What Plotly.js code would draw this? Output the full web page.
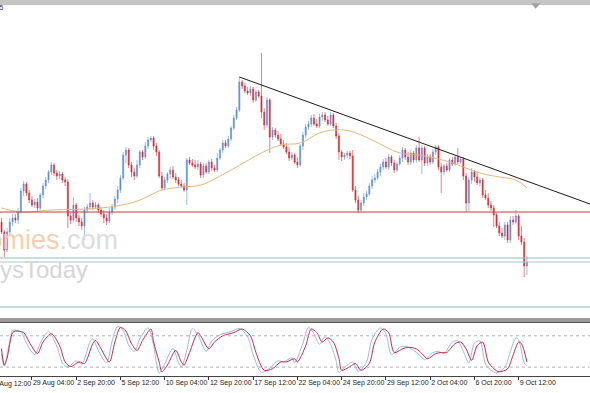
<!DOCTYPE html>
<html><head><meta charset="utf-8">
<script src="https://cdn.plot.ly/plotly-3.0.1.min.js"></script>
<style>html,body{margin:0;padding:0;background:#fff;}#c{width:590px;height:393px;}</style>
</head><body><div id="c"></div>
<script>
// H4 candles, index 0..190
const openP = [1778,1768,1750,1768,1778,1782,1780,1788,1809,1816,1807,1800,1795,1798,1792,1805,1814,1820,1828,1835,1827,1824,1826,1820,1818,1784,1780,1795,1782,1778,1774,1790,1793,1797,1793,1795,1790,1786,1782,1779,1788,1793,1801,1810,1822,1845,1850,1835,1828,1824,1835,1848,1843,1854,1860,1862,1854,1848,1824,1812,1820,1826,1830,1823,1820,1816,1814,1810,1840,1837,1835,1833,1836,1825,1834,1828,1838,1832,1830,1842,1850,1857,1854,1861,1872,1882,1890,1918,1914,1909,1907,1911,1900,1908,1904,1888,1875,1900,1863,1870,1865,1861,1856,1853,1848,1842,1845,1838,1835,1854,1865,1873,1876,1882,1876,1874,1883,1885,1880,1876,1885,1874,1864,1848,1843,1845,1847,1844,1810,1800,1790,1797,1803,1806,1814,1820,1822,1828,1833,1838,1833,1843,1837,1830,1836,1842,1850,1843,1838,1847,1840,1852,1840,1852,1837,1843,1838,1848,1853,1833,1828,1834,1830,1840,1836,1843,1838,1841,1824,1797,1820,1828,1823,1817,1820,1805,1802,1795,1792,1785,1774,1767,1764,1775,1760,1780,1778,1784,1764,1758,1734];
const highP = [1782,1770,1772,1782,1786,1786,1792,1812,1819,1818,1810,1804,1801,1802,1807,1817,1823,1830,1838,1837,1830,1829,1828,1823,1821,1788,1803,1797,1785,1782,1793,1796,1807,1800,1798,1797,1793,1790,1786,1792,1796,1804,1814,1825,1848,1853,1852,1838,1832,1840,1850,1850,1858,1863,1864,1864,1857,1850,1828,1823,1828,1833,1834,1827,1823,1820,1817,1842,1843,1841,1840,1840,1838,1837,1837,1840,1841,1835,1847,1852,1860,1860,1864,1874,1885,1893,1923,1920,1917,1913,1914,1913,1910,1910,1947,1892,1903,1902,1873,1872,1869,1866,1860,1857,1853,1848,1847,1843,1856,1868,1876,1879,1885,1886,1881,1886,1888,1888,1884,1888,1887,1877,1867,1850,1847,1849,1849,1850,1814,1804,1800,1807,1809,1817,1824,1826,1831,1836,1841,1842,1846,1845,1840,1838,1845,1853,1852,1848,1850,1849,1855,1863,1855,1854,1846,1846,1851,1855,1855,1837,1836,1837,1842,1843,1845,1852,1843,1843,1827,1823,1832,1830,1828,1823,1822,1810,1807,1799,1795,1787,1778,1772,1778,1778,1784,1784,1790,1786,1774,1762,1744];
const lowP = [1766,1743,1748,1765,1774,1777,1776,1786,1804,1804,1797,1793,1792,1788,1790,1802,1811,1817,1825,1824,1820,1821,1817,1814,1772,1776,1778,1778,1774,1770,1760,1787,1790,1790,1791,1787,1783,1777,1775,1777,1785,1790,1797,1807,1820,1837,1832,1823,1820,1822,1832,1840,1841,1851,1858,1850,1844,1822,1810,1810,1817,1822,1821,1817,1814,1812,1808,1795,1835,1833,1831,1830,1822,1822,1826,1826,1829,1828,1828,1840,1847,1852,1852,1859,1870,1880,1888,1911,1907,1905,1904,1897,1898,1902,1882,1870,1872,1847,1860,1862,1859,1854,1851,1846,1839,1840,1836,1832,1833,1850,1862,1870,1873,1874,1872,1872,1879,1878,1874,1874,1872,1861,1840,1839,1840,1842,1841,1808,1797,1787,1788,1794,1800,1804,1811,1817,1820,1824,1830,1831,1830,1834,1827,1828,1834,1838,1840,1835,1835,1837,1837,1838,1826,1834,1834,1835,1836,1845,1830,1807,1825,1828,1828,1834,1834,1836,1836,1820,1788,1789,1816,1818,1815,1814,1802,1800,1792,1789,1773,1772,1764,1762,1760,1757,1757,1775,1776,1760,1755,1723,1725];
const closeP = [1768,1750,1768,1778,1782,1780,1788,1809,1816,1807,1800,1795,1798,1792,1805,1814,1820,1828,1835,1827,1824,1826,1820,1818,1784,1780,1795,1782,1778,1774,1790,1793,1797,1793,1795,1790,1786,1782,1779,1788,1793,1801,1810,1822,1845,1850,1835,1828,1824,1835,1848,1843,1854,1860,1862,1854,1848,1824,1812,1820,1826,1830,1823,1820,1816,1814,1810,1840,1837,1835,1833,1836,1825,1834,1828,1838,1832,1830,1842,1850,1857,1854,1861,1872,1882,1890,1918,1914,1909,1907,1911,1900,1908,1904,1888,1875,1900,1863,1870,1865,1861,1856,1853,1848,1842,1845,1838,1835,1854,1865,1873,1876,1882,1876,1874,1883,1885,1880,1876,1885,1874,1864,1848,1843,1845,1847,1844,1810,1800,1790,1797,1803,1806,1814,1820,1822,1828,1833,1838,1833,1843,1837,1830,1836,1842,1850,1843,1838,1847,1840,1852,1840,1852,1837,1843,1838,1848,1853,1833,1828,1834,1830,1840,1836,1843,1838,1841,1824,1797,1820,1828,1823,1817,1820,1805,1802,1795,1792,1785,1774,1767,1764,1775,1760,1780,1778,1784,1764,1758,1734,1738];

// moving average (read at sample bars)
const maIdx = [0,7,18,36,48,54,58,65,72,83,94,101,108,115,120,126,134,144,151,162,173,180,186,190];
const maVal = [1792,1788,1790,1792,1798,1805,1810,1813,1815,1830,1847,1855,1857,1867,1870,1869,1860,1847,1845,1838,1827,1823,1820,1812];

// horizontal levels and trendline
const resistLevel = 1788;
const supportLevels = [1742, 1738];
const lowerLevel = 1693;
const trendX = [86, 212.8];
const trendY = [1923, 1796];

// stochastic (signal = red, main = light blue)
const stRedIdx = [0,1,2,4,5,8,10,13,15,18,21,23,25,28,30,33,34,36,39,41,43,45,47,49,51,54,55,57,58,60,63,65,66,68,71,72,75,77,80,84,87,90,92,95,98,101,103,106,107,110,112,114,116,118,120,122,123,126,128,130,133,135,138,140,142,145,147,150,152,154,157,159,161,164,166,168,170,172,174,176,178,180,183,185,187,188,190];
const stRedVal = [55,24,37,86,89,86,68,46,68,84,61,30,21,30,27,65,71,55,30,68,96,89,65,52,71,93,68,30,11,24,52,30,24,48,86,80,55,68,80,86,93,80,48,14,17,30,30,36,30,61,93,86,68,76,68,37,14,21,27,14,27,68,93,86,48,55,58,55,46,36,46,48,48,65,68,55,33,61,68,30,17,11,17,43,68,65,30];
const stBlueIdx = [0,1,3,4,7,9,12,14,17,20,22,24,27,29,32,33,35,38,40,42,44,46,48,50,53,55,56,57,59,62,64,65,67,69,71,74,76,79,83,86,89,91,94,97,100,102,105,106,109,111,113,115,117,119,121,122,125,127,129,132,134,137,139,141,144,146,149,151,153,156,158,160,163,165,167,169,171,173,175,177,179,182,184,186,187,189,190];
const stBlueVal = [45,22,70,90,88,66,44,66,88,60,28,20,32,26,68,74,52,28,70,98,90,62,50,74,95,62,28,9,26,56,28,20,52,94,82,50,70,82,88,94,78,44,10,18,32,30,38,28,66,96,84,64,78,64,32,10,24,30,12,30,74,95,84,44,58,60,52,44,34,48,50,46,68,70,50,28,66,70,26,14,9,20,50,76,72,28,22];
const stLevels = [20, 80];

// time axis
const tickIdx = [11,27,43,59,75,91,107,123,139,155,171,187];
const tickText = ["29 Aug 04:00","2 Sep 20:00","5 Sep 12:00","10 Sep 04:00","12 Sep 20:00","17 Sep 12:00","22 Sep 04:00","24 Sep 20:00","29 Sep 12:00","2 Oct 04:00","6 Oct 20:00","9 Oct 12:00"];
const firstLabel = "26 Aug 12:00";

const idx = openP.map((_, i) => i);
const BLUE = '#5a8fd8', RED = '#e2252b';

const traces = [
  {type:'candlestick', x: idx, open: openP, high: highP, low: lowP, close: closeP,
   increasing:{line:{color:BLUE, width:0.6}, fillcolor:BLUE},
   decreasing:{line:{color:RED, width:0.6}, fillcolor:RED},
   whiskerwidth:0, xaxis:'x', yaxis:'y', hoverinfo:'skip', showlegend:false},
  {type:'scatter', mode:'lines', x: maIdx, y: maVal, line:{color:'#e2b77c', width:1, shape:'spline', smoothing:1.1},
   xaxis:'x', yaxis:'y', hoverinfo:'skip', showlegend:false},
  {type:'scatter', mode:'lines', x: trendX, y: trendY, line:{color:'#1a1a1a', width:1},
   xaxis:'x', yaxis:'y', hoverinfo:'skip', showlegend:false, cliponaxis:true},
  {type:'scatter', mode:'lines', x: stBlueIdx, y: stBlueVal, line:{color:'#9db8de', width:1, shape:'spline', smoothing:0.8},
   xaxis:'x', yaxis:'y2', hoverinfo:'skip', showlegend:false},
  {type:'scatter', mode:'lines', x: stRedIdx, y: stRedVal, line:{color:'#c42848', width:1, shape:'spline', smoothing:0.8},
   xaxis:'x', yaxis:'y2', hoverinfo:'skip', showlegend:false}
];

const H = 393;
const shapes = [
  {type:'line', xref:'paper', x0:0, x1:1, yref:'y', y0:resistLevel, y1:resistLevel, line:{color:'#c83a3a', width:1}},
  {type:'line', xref:'paper', x0:0, x1:1, yref:'y', y0:supportLevels[0], y1:supportLevels[0], line:{color:'#86c0b6', width:1}},
  {type:'line', xref:'paper', x0:0, x1:1, yref:'y', y0:supportLevels[1], y1:supportLevels[1], line:{color:'#b3c4cc', width:1}},
  {type:'line', xref:'paper', x0:0, x1:1, yref:'y', y0:lowerLevel, y1:lowerLevel, line:{color:'#7fbdb2', width:1}},
  {type:'line', xref:'paper', x0:0, x1:1, yref:'y2', y0:stLevels[0], y1:stLevels[0], line:{color:'#b0b0b0', width:1, dash:'dot'}},
  {type:'line', xref:'paper', x0:0, x1:1, yref:'y2', y0:stLevels[1], y1:stLevels[1], line:{color:'#b0b0b0', width:1, dash:'dot'}},
  // window chrome
  {type:'rect', xref:'paper', yref:'paper', x0:0, x1:1, y0:1-3/H, y1:1, fillcolor:'#c4c4c4', line:{width:0}},
  {type:'line', xref:'paper', yref:'paper', x0:0, x1:1, y0:1-4/H, y1:1-4/H, line:{color:'#8a8a8a', width:1}},
  {type:'rect', xref:'paper', yref:'paper', x0:0, x1:1, y0:1-322/H, y1:1-318/H, fillcolor:'#9a9a9a', line:{width:0}},
  {type:'line', xref:'paper', yref:'paper', x0:0, x1:1, y0:1-322.5/H, y1:1-322.5/H, line:{color:'#555', width:1}},
  {type:'path', xref:'paper', yref:'paper', path:'M 0.9 0.992 L 0.916 0.992 L 0.908 0.978 Z', fillcolor:'#a0a0a0', line:{width:0}}
];

const layout = {
  width:590, height:393, margin:{l:0,r:0,t:0,b:0},
  paper_bgcolor:'#ffffff', plot_bgcolor:'#ffffff',
  showlegend:false, boxgap:0.45,
  font:{family:'"Liberation Sans", Arial, sans-serif', size:7, color:'#222'},
  xaxis:{range:[-0.55, 212.8], anchor:'y2', showgrid:false, zeroline:false, rangeslider:{visible:false},
    tickmode:'array', tickvals:tickIdx, ticktext:tickText, ticks:'outside', ticklen:3, tickcolor:'#333',
    tickangle:0, ticklabelposition:'outside right', tickfont:{size:7, color:'#222'},
    showline:true, linecolor:'#444', linewidth:1},
  yaxis:{domain:[1-314/H, 1-8/H], range:[1686, 1992], showgrid:false, zeroline:false, showticklabels:false, ticks:''},
  yaxis2:{domain:[1-376/H, 1-323/H], range:[3, 104.5], showgrid:false, zeroline:false, showticklabels:false, ticks:''},
  shapes: shapes,
  annotations:[
    {xref:'paper', yref:'paper', x:-12/590, y:1-384/H, xanchor:'left', yanchor:'middle', text:firstLabel, showarrow:false, font:{size:7, color:'#222'}},
    {xref:'paper', yref:'paper', x:6/590, y:1-8/H, xanchor:'right', yanchor:'middle', text:'1.2955', showarrow:false, font:{size:7, color:'#333'}},
    {xref:'paper', yref:'paper', x:120/590, y:1-240/H, xanchor:'right', yanchor:'middle', showarrow:false,
     text:'<span style="color:#f6cfb2">economies</span><span style="color:#dcdcdc">.com</span>', font:{size:27, family:'"Liberation Sans", Arial, sans-serif'}},
    {xref:'paper', yref:'paper', x:90/590, y:1-269/H, xanchor:'right', yanchor:'middle', showarrow:false,
     text:'ysToday', font:{size:24, color:'#d6d6d6', family:'"Liberation Sans", Arial, sans-serif'}}
  ]
};

Plotly.newPlot('c', traces, layout, {displayModeBar:false, staticPlot:true});
</script>
</body></html>
